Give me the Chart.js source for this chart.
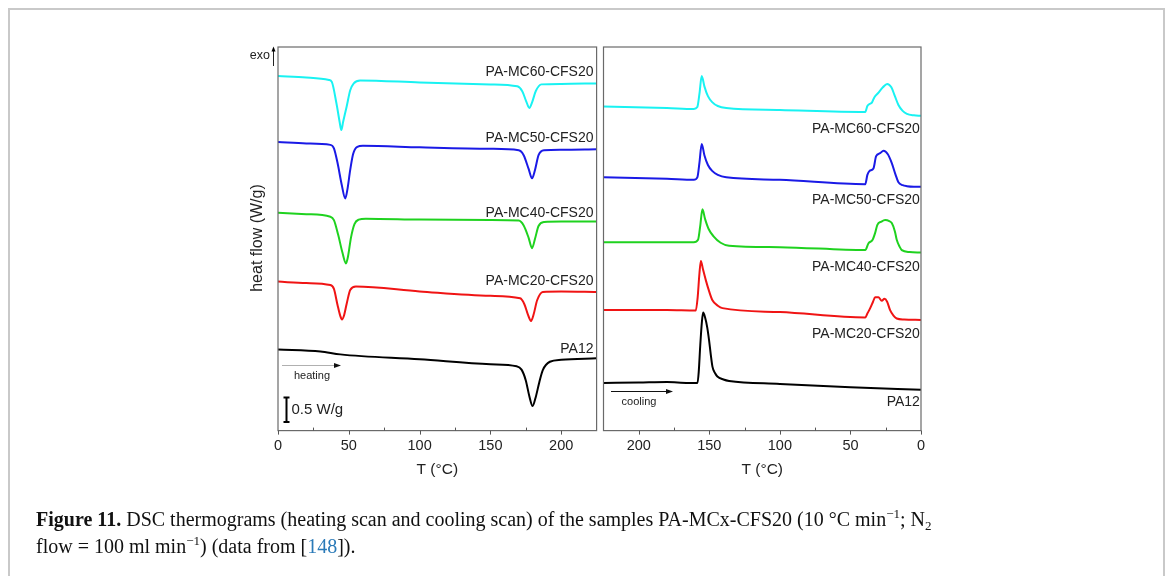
<!DOCTYPE html>
<html><head><meta charset="utf-8">
<script src="https://cdn.jsdelivr.net/npm/chart.js@4.4.0/dist/chart.umd.min.js"></script>
<style>
html,body{margin:0;padding:0;background:#fff;width:1168px;height:576px;overflow:hidden;}
#frame{position:absolute;left:8px;top:8px;width:1153px;height:600px;border:2px solid #c9c9c9;border-bottom:none;}
canvas{position:absolute;left:0;top:0;}
#cap{position:absolute;left:36px;top:506px;font-family:"Liberation Serif","Times New Roman",serif;font-size:20px;line-height:27px;color:#111;white-space:nowrap;}
#cap sup,#cap sub{font-size:13px;line-height:0;position:relative;vertical-align:baseline;}
#cap sup{top:-8px;} #cap sub{top:4px;}
.ref{color:#2a7ab8;}
</style></head>
<body>
<div id="frame"></div>
<canvas id="cL" width="1168" height="576"></canvas>
<canvas id="cR" width="1168" height="576"></canvas>
<div id="cap">
<div><b>Figure 11.</b> DSC thermograms (heating scan and cooling scan) of the samples PA-MCx-CFS20 (10 °C min<sup>−1</sup>; N<sub>2</sub></div>
<div>flow = 100 ml min<sup>−1</sup>) (data from [<span class="ref">148</span>]).</div>
</div>
<script>
// ---------- DATA ----------
const seriesNames = ['PA-MC60-CFS20','PA-MC50-CFS20','PA-MC40-CFS20','PA-MC20-CFS20','PA12'];
const xTicks = [0,50,100,150,200];

// heating scan (T in °C, heat flow in W/g incl. vertical stacking offset)
const heatT_MC60 = [0,20,36,38,41.3,43.5,44.7,46,48.5,51,53.5,58,100,150,169,172.5,175.5,177.5,179.5,182,186,200,225];
const heatY_MC60 = [7.21,7.18,7.13,7.09,6.65,6.28,6.11,6.28,6.59,6.92,7.06,7.12,7.08,7.04,7.00,6.90,6.68,6.56,6.68,6.90,7.04,7.05,7.06];
const heatT_MC50 = [0,20,37,39.5,42,45,47.5,49,51,53,56,60,100,150,170,173.5,177,179.4,181.5,184,188,200,225];
const heatY_MC50 = [5.87,5.84,5.81,5.74,5.45,5.00,4.72,4.90,5.30,5.62,5.77,5.79,5.76,5.73,5.70,5.60,5.32,5.13,5.30,5.60,5.70,5.71,5.72];
const heatT_MC40 = [0,20,37,39.5,42.5,45.5,48,49.5,51.5,54,57,62,100,150,170,173.5,177,179.4,181.5,184,188,200,225];
const heatY_MC40 = [4.43,4.40,4.35,4.28,3.98,3.62,3.40,3.55,3.92,4.20,4.29,4.31,4.29,4.28,4.27,4.17,3.92,3.71,3.90,4.16,4.24,4.25,4.25];
const heatT_MC20 = [0,20,37,39.5,42,44,45.2,46.5,48.5,51,55,100,150,171,174,176.5,178.7,180.5,183,187,200,225];
const heatY_MC20 = [3.03,3.00,2.96,2.88,2.56,2.33,2.26,2.33,2.58,2.86,2.93,2.83,2.74,2.69,2.57,2.36,2.23,2.36,2.65,2.82,2.83,2.82];
const heatT_PA12 = [0,30,44,100,150,168.5,172,175,177.5,179.8,182,184.5,187,192,200,225];
const heatY_PA12 = [1.65,1.61,1.55,1.45,1.35,1.31,1.24,1.02,0.70,0.50,0.68,0.98,1.23,1.40,1.44,1.47];

// cooling scan (T descending)
const coolT_MC60 = [225,180,161,158.5,157,155.4,153.5,151,148,144,138,100,39.5,38,36.5,34.8,33,30.5,27,24,21,18.5,16,13,10,5,0];
const coolY_MC60 = [6.59,6.56,6.54,6.58,6.85,7.21,7.00,6.80,6.68,6.60,6.56,6.52,6.48,6.60,6.64,6.67,6.78,6.86,6.98,7.05,6.98,6.80,6.62,6.50,6.44,6.41,6.40];
const coolT_MC50 = [225,180,161,158.5,157,155.4,153.5,151,148,144,138,100,39.5,38,36.5,33.7,31.8,29,26.6,23.5,20.7,18,16,13,10,5,0];
const coolY_MC50 = [5.15,5.12,5.10,5.15,5.45,5.83,5.60,5.40,5.28,5.20,5.15,5.10,5.01,5.20,5.28,5.33,5.58,5.64,5.69,5.62,5.44,5.20,5.05,4.99,4.97,4.96,4.96];
const coolT_MC40 = [225,180,161,158,156.5,154.9,153,150.5,147,142,136,100,39.5,37.2,34.3,32.5,31,28,25.4,22.5,20.7,18.5,17.2,15,13.6,8,0];
const coolY_MC40 = [3.83,3.83,3.83,3.88,4.15,4.50,4.30,4.10,3.95,3.82,3.76,3.73,3.67,3.81,3.88,4.02,4.18,4.25,4.28,4.26,4.22,4.05,3.88,3.73,3.67,3.63,3.62];
const coolT_MC20 = [225,180,159.6,158.3,157,156,154.5,152.5,150,147.8,144,140.7,100,39.5,38,36,34,32.5,30.2,27.8,25.9,24,21.9,19.5,17.2,12,0];
const coolY_MC20 = [2.45,2.45,2.44,2.70,3.20,3.45,3.28,3.06,2.82,2.65,2.54,2.49,2.41,2.30,2.38,2.49,2.62,2.71,2.71,2.64,2.68,2.62,2.45,2.34,2.28,2.26,2.25];
const coolT_PA12 = [225,200,180,165,158.4,157.5,156.5,155.3,154.4,153,151.5,150.2,149,147.8,146,144.3,140,136,100,50,0];
const coolY_PA12 = [0.97,0.98,0.99,0.97,0.97,1.20,1.70,2.20,2.40,2.30,2.10,1.84,1.55,1.30,1.17,1.10,1.04,1.01,0.95,0.88,0.83];

// label anchor values (T, W/g) for series names
const heatLabelT = [222.8,222.8,222.8,222.8,222.8];
const heatLabelY = [7.28,5.94,4.43,3.03,1.65];
const coolLabelT = [0.8,0.8,0.8,0.8,0.8];
const coolLabelY = [6.13,4.69,3.33,1.96,0.575];
const scaleBar = {T:5.6, from:0.175, size:0.5, label:'0.5 W/g'};

// ---------- STYLE / LAYOUT ----------
const colors = ['#19f2f2','#1a1ae6','#1fd21f','#f01414','#000000'];
const W = 1168, H = 576, TOP = 47, BOTTOM = 430.6, AXIS_H = 50;
const SANS = '"Liberation Sans", Arial, sans-serif';

function pts(t, y){ return t.map((v,i)=>({x:v, y:y[i]})); }
function mkSets(list){
  return list.map((p,i)=>({label:seriesNames[i], data:pts(p[0],p[1]), borderColor:colors[i],
    borderWidth:2, pointRadius:0, fill:false, cubicInterpolationMode:'monotone'}));
}
function arrowHead(ctx, x, y, dir, len, half){
  ctx.beginPath();
  if (dir==='right'){ ctx.moveTo(x,y); ctx.lineTo(x-len,y-half); ctx.lineTo(x-len,y+half); }
  else { ctx.moveTo(x,y); ctx.lineTo(x-half,y+len); ctx.lineTo(x+half,y+len); }
  ctx.closePath(); ctx.fill();
}

function panelPlugin(labelT, labelY, extra){
  return {
    id:'panel',
    afterDatasetsDraw(chart){
      const ctx = chart.ctx, a = chart.chartArea, xs = chart.scales.x, ys = chart.scales.y;
      ctx.save();
      ctx.strokeStyle = '#6a6a6a'; ctx.lineWidth = 1.2;
      ctx.strokeRect(a.left, a.top, a.right-a.left, a.bottom-a.top);
      ctx.lineWidth = 1; ctx.strokeStyle = '#555';
      xTicks.forEach(t=>{
        const px = Math.round(xs.getPixelForValue(t))+0.5;
        ctx.beginPath(); ctx.moveTo(px, a.bottom); ctx.lineTo(px, a.bottom+4); ctx.stroke();
        const pm = Math.round(xs.getPixelForValue(t+25))+0.5;
        if (t+25 < 225){ ctx.beginPath(); ctx.moveTo(pm, a.bottom); ctx.lineTo(pm, a.bottom-3); ctx.stroke(); }
      });
      ctx.fillStyle = '#222'; ctx.font = '14px ' + SANS;
      ctx.textAlign = 'right'; ctx.textBaseline = 'middle';
      seriesNames.forEach((n,i)=>{
        ctx.fillText(n, xs.getPixelForValue(labelT[i]), ys.getPixelForValue(labelY[i]));
      });
      extra(ctx, a, xs, ys);
      ctx.restore();
    }
  };
}

function makeChart(id, left, right, reverse, sets, plugin){
  return new Chart(document.getElementById(id), {
    type:'line',
    data:{datasets:sets},
    options:{
      responsive:false, animation:false, devicePixelRatio:1, events:[],
      layout:{padding:{left:left, right:W-right, top:TOP, bottom:H-BOTTOM-AXIS_H}},
      plugins:{legend:{display:false}, tooltip:{enabled:false}},
      scales:{
        x:{type:'linear', min:0, max:225, reverse:reverse,
           afterFit:(s)=>{ s.height = AXIS_H; },
           grid:{display:false, drawTicks:false}, border:{display:false},
           ticks:{stepSize:50, includeBounds:false, padding:7, color:'#222', font:{family:SANS, size:14.5}, maxRotation:0},
           title:{display:true, text:'T (°C)', color:'#222', font:{family:SANS, size:15.5}, padding:{top:0,bottom:2}}},
        y:{type:'linear', min:0, max:7.8, display:false}
      }
    },
    plugins:[plugin]
  });
}

const heatSets = mkSets([[heatT_MC60,heatY_MC60],[heatT_MC50,heatY_MC50],[heatT_MC40,heatY_MC40],[heatT_MC20,heatY_MC20],[heatT_PA12,heatY_PA12]]);
const coolSets = mkSets([[coolT_MC60,coolY_MC60],[coolT_MC50,coolY_MC50],[coolT_MC40,coolY_MC40],[coolT_MC20,coolY_MC20],[coolT_PA12,coolY_PA12]]);

makeChart('cL', 278, 596.6, false, heatSets, panelPlugin(heatLabelT, heatLabelY, (ctx,a,xs,ys)=>{
  ctx.save(); ctx.translate(258, 238); ctx.rotate(-Math.PI/2);
  ctx.fillStyle='#222'; ctx.font='16px '+SANS; ctx.textAlign='center'; ctx.textBaseline='middle';
  ctx.fillText('heat flow (W/g)', 0, 0); ctx.restore();
  ctx.fillStyle='#222'; ctx.font='12.5px '+SANS; ctx.textAlign='right'; ctx.textBaseline='middle';
  ctx.fillText('exo', 270, 56);
  ctx.strokeStyle='#222'; ctx.lineWidth=1;
  ctx.beginPath(); ctx.moveTo(273.5, 66); ctx.lineTo(273.5, 49); ctx.stroke();
  ctx.fillStyle='#000'; arrowHead(ctx, 273.5, 46.5, 'up', 5, 2);
  ctx.strokeStyle='#b0b0b0'; ctx.lineWidth=1;
  ctx.beginPath(); ctx.moveTo(282, 365.5); ctx.lineTo(335, 365.5); ctx.stroke();
  ctx.fillStyle='#111'; arrowHead(ctx, 341, 365.5, 'right', 7, 2.5);
  ctx.fillStyle='#222'; ctx.font='11px '+SANS; ctx.textAlign='center';
  ctx.fillText('heating', 312, 376);
  const bx = Math.round(xs.getPixelForValue(scaleBar.T))+0.5;
  const y0 = ys.getPixelForValue(scaleBar.from), y1 = ys.getPixelForValue(scaleBar.from+scaleBar.size);
  ctx.strokeStyle='#000'; ctx.lineWidth=2;
  ctx.beginPath(); ctx.moveTo(bx, y0); ctx.lineTo(bx, y1);
  ctx.moveTo(bx-3, y0); ctx.lineTo(bx+3, y0); ctx.moveTo(bx-3, y1); ctx.lineTo(bx+3, y1); ctx.stroke();
  ctx.fillStyle='#222'; ctx.font='15px '+SANS; ctx.textAlign='left';
  ctx.fillText(scaleBar.label, bx+5, (y0+y1)/2);
}));

makeChart('cR', 603.5, 921, true, coolSets, panelPlugin(coolLabelT, coolLabelY, (ctx)=>{
  ctx.strokeStyle='#111'; ctx.lineWidth=1;
  ctx.beginPath(); ctx.moveTo(611, 391.5); ctx.lineTo(667, 391.5); ctx.stroke();
  ctx.fillStyle='#111'; arrowHead(ctx, 673, 391.5, 'right', 7, 2.5);
  ctx.fillStyle='#222'; ctx.font='11px '+SANS; ctx.textAlign='center'; ctx.textBaseline='middle';
  ctx.fillText('cooling', 639, 402);
}));
</script>
</body></html>
